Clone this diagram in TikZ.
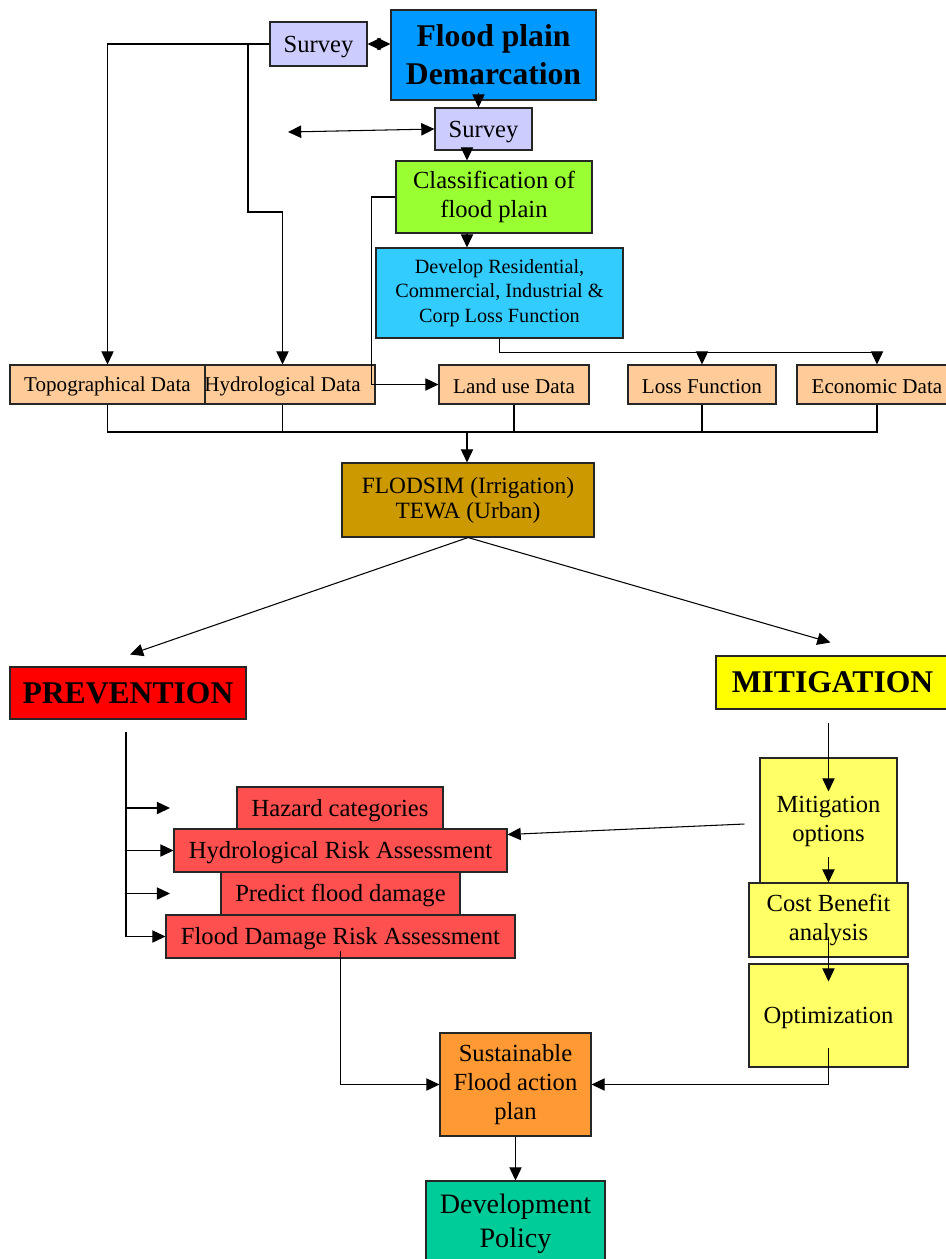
\documentclass[tikz,border=0pt]{standalone}
\usepackage{fontspec}
\setmainfont{Liberation Serif}
\usepackage{tikz}
\usetikzlibrary{positioning}
\usetikzlibrary{arrows.meta}
\usetikzlibrary{calc}

\definecolor{cSurvey}{HTML}{CCCCFF}
\definecolor{cDemarc}{HTML}{0099FF}
\definecolor{cClass}{HTML}{99FF33}
\definecolor{cDevelop}{HTML}{33CCFF}
\definecolor{cData}{HTML}{FFCC99}
\definecolor{cModel}{HTML}{CC9900}
\definecolor{cPrev}{HTML}{FF0000}
\definecolor{cMitig}{HTML}{FFFF00}
\definecolor{cRisk}{HTML}{FF5050}
\definecolor{cOption}{HTML}{FFFF66}
\definecolor{cAction}{HTML}{FF9933}
\definecolor{cPolicy}{HTML}{00CC99}

\begin{document}
\begin{tikzpicture}[
            x = 0.02cm, y = -0.02cm, % one unit per pixel, y going down
            > = {Triangle[length=7.5pt, width=7pt]}, % arrow head style
            semithick, % line style
            sz/.style 2 args = {minimum width = #1*0.02cm, minimum height = #2*0.02cm}
        ]

        \tikzstyle{box}=[
            draw = black!85,
            inner sep = 0pt,
            align = center,
            font = \fontsize{14}{16.5}\selectfont
        ]
        % struts that sit the text a bit lower
        \tikzstyle{one}=[box, execute at begin node = {\rule{0pt}{0.9em}}]
        \tikzstyle{two}=[box, execute at begin node = {\rule{0pt}{1.3em}}]
        \tikzstyle{data}=[one, fill = cData, font = \fontsize{12}{14}\selectfont]
        \tikzstyle{big}=[box, font = \fontsize{18}{21.5}\selectfont\bfseries]

        \useasboundingbox (0,0) rectangle (946,1259);

% survey level
        \node[one, fill = cSurvey, sz = {97}{44}] (SURVEY1) at (318.5,44) {Survey};
        \node[big, fill = cDemarc, sz = {205}{90}] (DEMARC) at (493.5,55) {Flood plain\\Demarcation};
        \node[one, fill = cSurvey, sz = {97}{42}] (SURVEY2) at (483.5,129) {Survey};
        \node[two, fill = cClass, sz = {196}{72}] (CLASS) at (494,197) {Classification of\\flood plain};
        \node[two, fill = cDevelop, sz = {247}{90}, font = \fontsize{11.5}{13.9}\selectfont] (DEVELOP) at (499.5,293)
            {Develop Residential,\\Commercial, Industrial \&\\Corp Loss Function};

% data level
        \node[data, sz = {185}{39}] (HYDRO) at (282.5,384.5) {Hydrological Data};
        \node[data, sz = {195}{39}] (TOPO) at (107.5,384.5) {Topographical Data};
        \node[data, sz = {150}{39}] (LANDUSE) at (514,384.5) {Land use Data};
        \node[data, sz = {148}{39}] (LOSS) at (702,384.5) {Loss Function};
        \node[data, sz = {160}{39}] (ECON) at (877,384.5) {Economic Data};

        \node[two, fill = cModel, sz = {252}{74}, font = \fontsize{13.3}{14.2}\selectfont] (FLODSIM) at (468,500)
            {FLODSIM (Irrigation)\\TEWA (Urban)};

% strategy level
        \node[big, fill = cPrev, sz = {236}{52}] (PREV) at (128,693) {PREVENTION};
        \node[big, fill = cMitig, sz = {233}{53}] (MITIG) at (832.5,682.5) {MITIGATION};

        \node[one, fill = cRisk, sz = {206}{42}] (HAZARD) at (340,808) {Hazard categories};
        \node[one, fill = cRisk, sz = {333}{43}] (HRA) at (340.5,850.5) {Hydrological Risk Assessment};
        \node[one, fill = cRisk, sz = {239}{43}] (PREDICT) at (340.5,893.5) {Predict flood damage};
        \node[one, fill = cRisk, sz = {349}{43}] (FDRA) at (340.5,936.5) {Flood Damage Risk Assessment};

        \node[two, fill = cOption, sz = {137}{126}] (MITOPT) at (828.5,821) {Mitigation\\options};
        \node[two, fill = cOption, sz = {159}{74}] (CBA) at (828.5,920) {Cost Benefit\\analysis};
        \node[one, fill = cOption, sz = {159}{103}] (OPTIM) at (828.5,1015.5) {Optimization};

% outcome level
        \node[two, fill = cAction, sz = {151}{103}] (ACTION) at (515.5,1084.5) {Sustainable\\Flood action\\plan};
        \node[two, fill = cPolicy, sz = {179}{86}, font = \fontsize{16}{19.3}\selectfont] (POLICY) at (515.5,1224)
            {Development\\Policy};

        \coordinate (SPINE) at (467,0);
        \coordinate (BUS) at (467,432);
        \coordinate (JOG) at (248,212);
        \coordinate (FREE) at (288,132);

        \draw[<->] (SURVEY1.east) -- (SURVEY1.east -| DEMARC.west);
        \draw[->] ($(DEMARC.south)+(-15,-8)$) -- ($(SURVEY2.north)+(-5,0)$);
        \draw[<->] (FREE) -- (SURVEY2.west);
        \draw[->] (SURVEY2.south -| SPINE) -- (CLASS.north -| SPINE);
        \draw[->] (CLASS.south -| SPINE) -- (DEVELOP.north -| SPINE);

        \draw[->] (SURVEY1.west) -| (TOPO.north);
        \draw[->] (JOG |- SURVEY1.west) -- (JOG) -| (HYDRO.north);
        \draw[->] (CLASS.west) -- ++(-24,0) |- (LANDUSE.west);
        \draw[->] (DEVELOP.south) -- ++(0,14) -| (LOSS.north);
        \draw[->] (DEVELOP.south) -- ++(0,14) -| (ECON.north);

        \draw (TOPO.south) |- (ECON.south |- BUS) -- (ECON.south);
        \foreach \n in {HYDRO, LANDUSE, LOSS}
            \draw (\n.south) -- (\n.south |- BUS);
        \draw[->] (BUS) -- (FLODSIM.north -| BUS);

        \draw[->] (FLODSIM.south) -- ($(PREV.north)+(2,-12)$);
        \draw[->] (FLODSIM.south) -- ($(MITIG.north)+(-2,-13)$);

% prevention branch
        \coordinate (PV) at ($(PREV.south)+(-2,12)$);
        \draw (PV) -- (PV |- FDRA);
        \draw[->] (PV |- HAZARD) -- ++(44,0);
        \draw[->] (PV |- HRA) -- (HRA.west);
        \draw[->] (PV |- PREDICT) -- ++(44,0);
        \draw[->] (PV |- FDRA) -- (FDRA.west);

% mitigation branch
        \draw[->] ($(MITOPT.north)+(0,-34)$) -- ($(MITOPT.north)+(0,34)$);
        \draw[->] ($(MITOPT.west)+(-15,3)$) -- ($(HRA.east)+(0,-16)$);
        \draw[->] ($(MITOPT.center)+(0,36)$) -- (CBA.north);
        \draw[->] ($(CBA.center)+(0,17)$) -- ($(OPTIM.north)+(0,18)$);

        \draw[->] ($(FDRA.south)+(0,-8)$) |- (ACTION.west);
        \draw[->] ($(OPTIM.center)+(0,32)$) |- (ACTION.east);
        \draw[->] (ACTION.south) -- (POLICY.north);

\end{tikzpicture}
\end{document}
